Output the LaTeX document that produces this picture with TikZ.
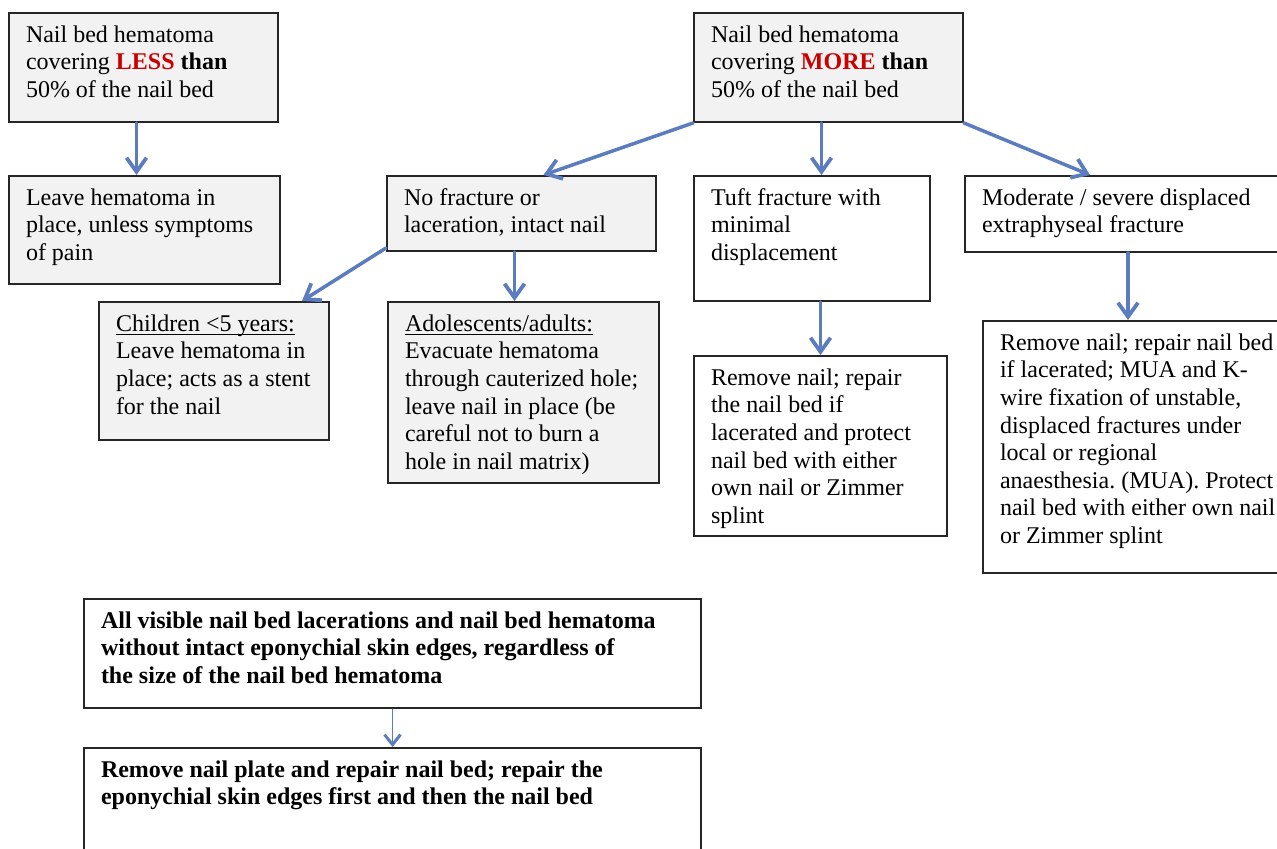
\documentclass[tikz,border=0pt]{standalone}
\usepackage{fontspec}
\setmainfont{Liberation Serif}
\usepackage{xcolor}
\usepackage{tikz}
\usetikzlibrary{arrows.meta}

\definecolor{flowblue}{RGB}{91,125,192}
\definecolor{cellgray}{RGB}{242,242,242}
\definecolor{hotred}{RGB}{204,0,0}
\newcommand{\cellbox}[3]{\parbox[t][#2pt][t]{#1pt}{\frenchspacing\raggedright\strut #3}}
\newcommand{\uword}[1]{\underline{\smash{#1}}}

\begin{document}
\begin{tikzpicture}[x=0.5pt, y=-0.5pt,
  cell/.style={draw=black!85, line width=1pt, anchor=north west, inner xsep=8.5pt, inner ysep=5pt,
    font=\fontsize{12}{13.8}\selectfont},
  grey/.style={cell, fill=cellgray},
  flow/.style={draw=flowblue, line width=1.75pt, line cap=round,
    -{Straight Barb[length=7pt,width=10pt,line width=1.9pt]}},
  thinflow/.style={draw=flowblue, line width=0.7pt,
    -{Straight Barb[length=5pt,width=8pt,line width=1.5pt]}}]
\clip (0,0) rectangle (1277,849);
\fill[white] (0,0) rectangle (1277,849);

% top row
\node[grey] (less) at (8,12) {\cellbox{117.5}{44.5}{Nail bed hematoma\\ covering \textcolor{hotred}{\textbf{LESS}} \textbf{than}\\ 50\% of the nail bed}};
\node[grey] (more) at (693,12) {\cellbox{117.5}{44.5}{Nail bed hematoma\\ covering \textcolor{hotred}{\textbf{MORE}} \textbf{than}\\ 50\% of the nail bed}};

% second row
\node[grey] (leave) at (8,175) {\cellbox{118.5}{44}{Leave hematoma in\\ place, unless symptoms\\ of pain}};
\node[grey] (nofrac) at (386,175) {\cellbox{117.5}{27.5}{No fracture or\\ laceration, intact nail}};
\node[cell] (tuft) at (693,175) {\cellbox{101}{52.5}{Tuft fracture with\\ minimal\\ displacement}};
\node[cell] (moder) at (964,175) {\cellbox{146}{28}{Moderate / severe displaced\\ extraphyseal fracture}};

% third row
\node[grey] (child) at (98,301) {\cellbox{98}{59}{\uword{Children <5 years:}\\ Leave hematoma in\\ place; acts as a stent\\ for the nail}};
\node[grey] (adult) at (387,301) {\cellbox{118.5}{80.5}{\uword{Adolescents/adults:}\\ Evacuate hematoma\\ through cauterized hole;\\ leave nail in place (be\\ careful not to burn a\\ hole in nail matrix)}};
\node[cell] (rtuft) at (693,355) {\cellbox{109.5}{80}{Remove nail; repair\\ the nail bed if\\ lacerated and protect\\ nail bed with either\\ own nail or Zimmer\\ splint}};
\node[cell] (rmod) at (982,320) {\cellbox{140}{116}{Remove nail; repair nail bed\\ if lacerated; MUA and K-\\ wire fixation of unstable,\\ displaced fractures under\\ local or regional\\ anaesthesia. (MUA). Protect\\ nail bed with either own nail\\ or Zimmer splint}};

% bottom part
\node[cell] (allvis) at (83,598) {\cellbox{291.5}{44.5}{\bfseries All visible nail bed lacerations and nail bed hematoma\\ without intact eponychial skin edges, regardless of\\ the size of the nail bed hematoma}};
\node[cell] (plate) at (83,747) {\cellbox{291.5}{44}{\bfseries Remove nail plate and repair nail bed; repair the\\ eponychial skin edges first and then the nail bed}};

% arrows
\draw[flow] ([xshift=-3.5pt]less.south) -- ([xshift=-3.5pt]less.south |- leave.north);
\draw[flow] (more.south west) -- ([xshift=11pt]nofrac.north);
\draw[flow] ([xshift=-3.5pt]more.south) -- ([xshift=-3.5pt]more.south |- tuft.north);
\draw[flow] (more.south east) -- ([xshift=63pt]moder.north west);
\draw[flow] ([yshift=2pt]nofrac.south west) -- ([xshift=-14pt]child.north east);
\draw[flow] ([xshift=-3.5pt]nofrac.south) -- ([xshift=-3.5pt]nofrac.south |- adult.north);
\draw[flow] (rtuft.north |- tuft.south) -- (rtuft.north);
\draw[flow] (moder.south) -- (moder.south |- rmod.north);
\draw[thinflow] (allvis.south) -- (plate.north);
\end{tikzpicture}
\end{document}
